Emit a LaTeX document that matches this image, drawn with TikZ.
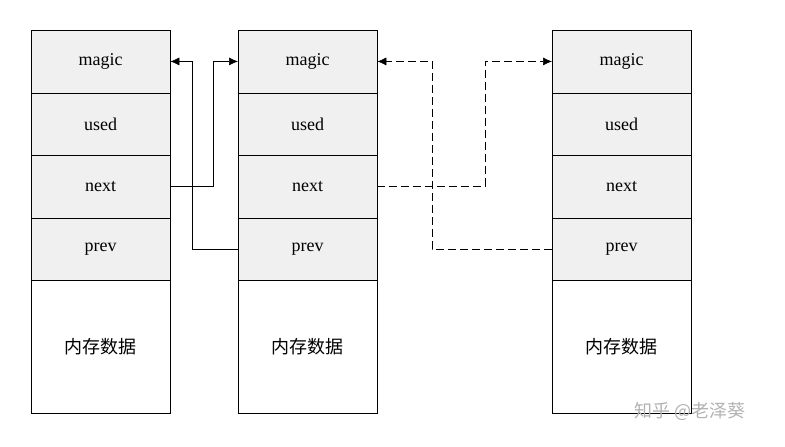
\documentclass[tikz,border=0pt]{standalone}
\usepackage{fontspec}
\setmainfont{Liberation Serif}
\newfontfamily\cjk{Noto Sans CJK SC}
\usetikzlibrary{positioning,calc,arrows.meta}

\begin{document}
\begin{tikzpicture}[x=1pt,y=-1pt,
	cell/.style={draw, fill=gray!12, minimum width=139pt, minimum height=62.5pt, inner sep=0pt, anchor=north west, font=\fontsize{18}{20}\selectfont},
	data/.style={draw, fill=white, minimum width=139pt, minimum height=133pt, inner sep=0pt, anchor=north west, font=\cjk\fontsize{18}{20}\selectfont},
	link/.style={-{Latex[length=9pt,width=8pt]}, semithick},
	dlink/.style={-{Latex[length=9pt,width=8pt]}, semithick, dash pattern=on 8pt off 4pt}]
	\useasboundingbox (0,0) rectangle (785,447);
	
	\foreach \i/\x in {1/31,2/238,3/552} {
		\node[cell] (m\i) at (\x,30) {magic};
		\node[cell] (u\i) at (\x,92.5) {used};
		\node[cell] (n\i) at (\x,155) {next};
		\node[cell] (p\i) at (\x,217.5) {prev};
		\node[data] (d\i) at (\x,280) {内存数据};
	}
	
	\draw[link] (n1.east) -- ++(43,0) |- (m2.west);
	\draw[link] (p2.west) -- ++(-46,0) |- (m1.east);
	\draw[dlink] (n2.east) -- ++(108,0) |- (m3.west);
	\draw[dlink] (p3.west) -- ++(-120,0) |- (m2.east);
	
	\node[text=gray!60, font=\cjk\fontsize{18}{20}\selectfont] (wm) at (690,411) {知乎 @老泽葵};
\end{tikzpicture}
\end{document}
